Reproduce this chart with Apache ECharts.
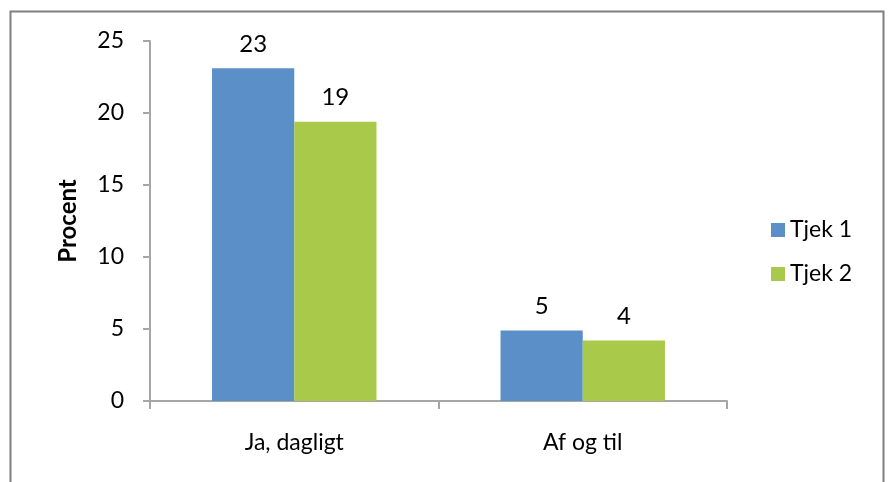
<!DOCTYPE html>
<html>
<head>
<meta charset="utf-8">
<script src="https://cdn.jsdelivr.net/npm/echarts@6/dist/echarts.min.js"></script>
<style>html,body{margin:0;padding:0;background:#fff}#c{width:888px;height:482px}</style>
</head>
<body>
<div id="c"></div>
<script>
const categories = ['Ja, dagligt', 'Af og til'];
const seriesNames = ['Tjek 1', 'Tjek 2'];
const tjek1 = [23.1, 4.9];
const tjek2 = [19.4, 4.2];
const yTicks = [0, 5, 10, 15, 20, 25];

const FONT = 'Lato, "Open Sans", sans-serif';
const chart = echarts.init(document.getElementById('c'), null, {renderer: 'canvas'});
const labelCfg = {show: true, position: 'top', distance: 12, color: '#000', fontSize: 24, fontFamily: FONT, formatter: p => Math.round(p.value)};
chart.setOption({
  animation: false,
  graphic: [{type: 'rect', shape: {x: 10.5, y: 11.5, width: 873, height: 520}, style: {fill: 'none', stroke: '#7f7f7f', lineWidth: 2}}],
  grid: {left: 150, right: 161, top: 41, bottom: 81},
  legend: {
    orient: 'vertical', left: 771, top: 218, padding: 0, itemGap: 20, itemWidth: 14, itemHeight: 14, icon: 'rect',
    textStyle: {fontSize: 23, fontFamily: FONT, color: '#000', lineHeight: 24, padding: [0, 0, 0, 0]},
    data: seriesNames
  },
  xAxis: {
    type: 'category', data: categories,
    axisLine: {lineStyle: {color: '#a6a6a6', width: 2}},
    axisTick: {show: true, length: 8, lineStyle: {color: '#a6a6a6', width: 2}},
    axisLabel: {fontSize: 23, fontFamily: FONT, color: '#000', margin: 30}
  },
  yAxis: {
    type: 'value', min: yTicks[0], max: yTicks[yTicks.length - 1], interval: 5,
    name: 'Procent', nameLocation: 'middle', nameGap: 70,
    nameTextStyle: {fontSize: 24, fontWeight: 'bold', fontFamily: FONT, color: '#000'},
    axisLine: {show: true, lineStyle: {color: '#a6a6a6', width: 2}},
    axisTick: {show: true, length: 7, lineStyle: {color: '#a6a6a6', width: 2}},
    splitLine: {show: false},
    axisLabel: {fontSize: 23, fontFamily: FONT, color: '#000', margin: 26}
  },
  series: [
    {name: seriesNames[0], type: 'bar', data: tjek1, barCategoryGap: '43%', barGap: '0%', itemStyle: {color: '#5b8fc8'}, label: labelCfg},
    {name: seriesNames[1], type: 'bar', data: tjek2, barCategoryGap: '43%', barGap: '0%', itemStyle: {color: '#a9c94b'}, label: labelCfg}
  ]
});
</script>
</body>
</html>
